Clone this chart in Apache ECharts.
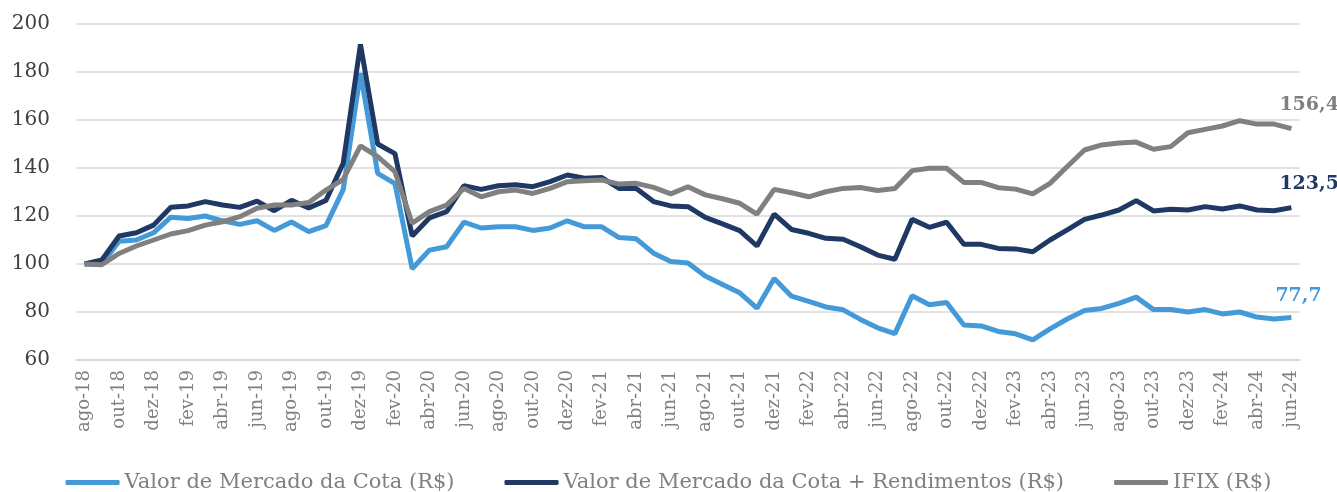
<!DOCTYPE html>
<html>
<head>
    <meta charset="UTF-8">
    <script src="https://cdn.jsdelivr.net/npm/echarts@6/dist/echarts.min.js"></script>
    <style>
        html, body { margin:0; padding:0; background:#fff; }
        #chart { width:1337px; height:492px; }
    </style>
</head>
<body>
<div id="chart"></div>
<script>
    // meses ago-18 .. jun-24
    var meses = ['jan','fev','mar','abr','mai','jun','jul','ago','set','out','nov','dez'];
    var categorias = [];
    for (var a = 2018; a <= 2024; a++) {
        for (var m = 0; m < 12; m++) {
            if (a === 2018 && m < 7) continue;
            if (a === 2024 && m > 5) continue;
            categorias.push(meses[m] + '-' + String(a).slice(2));
        }
    }

    var cota = [100,100,109.5,110,113,119.5,119,120,118,116.5,118,114,117.5,113.5,116,131,179.5,137.8,133.5,98,105.8,107.2,117.4,115,115.5,115.5,114,115,118,115.5,115.5,111,110.5,104.5,101,100.4,95,91.5,88,81.6,94,86.6,84.4,82.1,80.9,76.9,73.4,71,86.8,83,84,74.6,74.2,71.9,70.9,68.4,73,77.1,80.6,81.5,83.6,86.2,81,81,80,81,79.2,80,77.9,77.1,77.7];
    var cotaRend = [100,101.7,111.7,113,116.2,123.6,124.2,126,124.6,123.6,126.2,122.2,126.5,123.3,126.5,142,191.5,150,146,111.7,119.2,121.8,132.6,131.1,132.6,133,132.2,134.3,137.1,135.7,136,131.5,131.5,126,124.2,123.9,119.4,116.7,113.9,107.5,120.8,114.4,112.8,110.7,110.3,107.2,103.7,102,118.6,115.3,117.4,108.2,108.2,106.5,106.3,105.1,110,114.2,118.6,120.4,122.5,126.4,122.1,122.8,122.5,123.9,122.9,124.2,122.5,122.2,123.5];
    var ifix = [100,99.7,104.4,107.5,110,112.5,113.9,116.2,117.6,119.7,123.2,124.6,124.6,125.6,130.8,135.3,149.2,144.7,138.5,117,121.8,124.6,131.5,128,130.1,130.8,129.4,131.5,134.3,134.7,135,133.3,133.6,131.9,129.2,132.2,128.8,127.2,125.3,120.8,131.1,129.7,128,130.1,131.5,131.9,130.6,131.5,138.9,139.9,139.9,134,134,131.8,131.2,129.2,133.6,140.6,147.5,149.6,150.4,150.8,147.8,148.9,154.7,156.1,157.5,159.7,158.3,158.3,156.4];

    var nomes = ['Valor de Mercado da Cota (R$)', 'Valor de Mercado da Cota + Rendimentos (R$)', 'IFIX (R$)'];
    var cores = ['#449ad8', '#1f3864', '#808080'];
    var fonte = 'DejaVu Serif';

    function serie(nome, dados, cor, deslocamento) {
        return {
            name: nome,
            type: 'line',
            data: dados,
            showSymbol: false,
            symbol: 'none',
            lineStyle: { color: cor, width: 5 },
            itemStyle: { color: cor },
            emphasis: { disabled: true },
            endLabel: {
                show: true,
                offset: deslocamento,
                color: cor,
                fontFamily: fonte,
                fontWeight: 'bold',
                fontSize: 19,
                formatter: function (p) { return p.value.toFixed(1).replace('.', ','); }
            }
        };
    }

    var chart = echarts.init(document.getElementById('chart'));
    chart.setOption({
        animation: false,
        grid: { left: 76, right: 37, top: 24, bottom: 132, containLabel: false },
        legend: {
            top: 467,
            left: 'center',
            icon: 'roundRect',
            itemWidth: 54,
            itemHeight: 5,
            itemGap: 50,
            data: nomes,
            textStyle: { color: '#808080', fontFamily: fonte, fontSize: 21 }
        },
        xAxis: {
            type: 'category',
            data: categorias,
            boundaryGap: true,
            axisLine: { lineStyle: { color: '#d9d9d9', width: 1.5 } },
            axisTick: { interval: 1, length: 7, lineStyle: { color: '#d9d9d9', width: 1.5 } },
            axisLabel: {
                interval: 1,
                rotate: 90,
                margin: 10,
                color: '#808080',
                fontFamily: fonte,
                fontSize: 18
            },
            splitLine: { show: false }
        },
        yAxis: {
            type: 'value',
            min: 60,
            max: 200,
            interval: 20,
            axisLine: { show: false },
            axisTick: { show: false },
            axisLabel: { color: '#404040', fontFamily: fonte, fontSize: 20, margin: 26 },
            splitLine: { lineStyle: { color: '#d9d9d9', width: 1.5 } }
        },
        series: [
            serie(nomes[0], cota, cores[0], [-24, -21]),
            serie(nomes[1], cotaRend, cores[1], [-20, -24]),
            serie(nomes[2], ifix, cores[2], [-20, -24])
        ]
    });
</script>
</body>
</html>
